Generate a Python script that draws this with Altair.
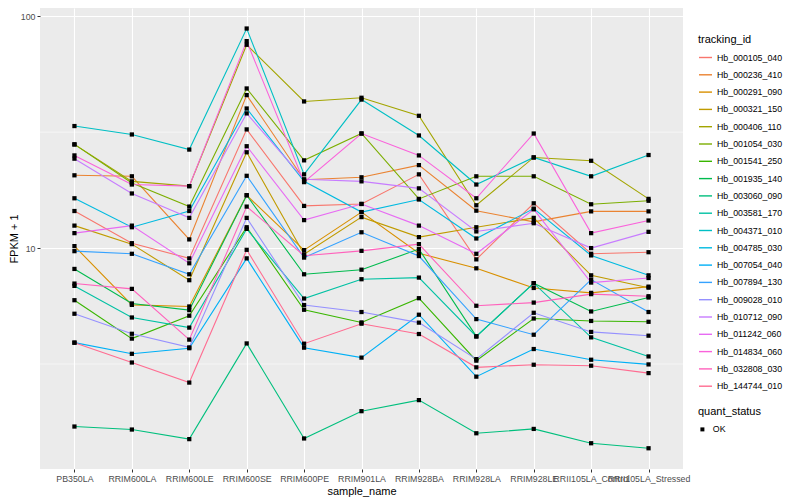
import altair as alt
import pandas as pd

samples = ["PB350LA", "RRIM600LA", "RRIM600LE", "RRIM600SE", "RRIM600PE",
           "RRIM901LA", "RRIM928BA", "RRIM928LA", "RRIM928LE",
           "RRII105LA_Control", "RRII105LA_Stressed"]

ids = ["Hb_000105_040", "Hb_000236_410", "Hb_000291_090", "Hb_000321_150",
       "Hb_000406_110", "Hb_001054_030", "Hb_001541_250", "Hb_001935_140",
       "Hb_003060_090", "Hb_003581_170", "Hb_004371_010", "Hb_004785_030",
       "Hb_007054_040", "Hb_007894_130", "Hb_009028_010", "Hb_010712_090",
       "Hb_011242_060", "Hb_014834_060", "Hb_032808_030", "Hb_144744_010"]

palette = ["#F8766D", "#EA8331", "#D89000", "#C09B00", "#A3A500", "#7CAE00",
           "#39B600", "#00BB4E", "#00BF7D", "#00C1A3", "#00BFC4", "#00BAE0",
           "#00B0F6", "#35A2FF", "#9590FF", "#C77CFF", "#E76BF3", "#FA62DB",
           "#FF62BC", "#FF6C91"]

Hb_000105_040 = [14.45, 10.5, 9.03, 32.5, 15.2, 15.5, 20.8, 8.94, 15.6, 9.45, 9.6]
Hb_000236_410 = [20.6, 20.4, 10.9, 45.7, 19.7, 20.2, 22.8, 14.5, 12.97, 14.4, 14.4]
Hb_000291_090 = [10.2, 5.69, 5.6, 16.9, 9.8, 14.3, 9.5, 8.18, 6.73, 6.41, 6.82]
Hb_000321_150 = [12.5, 10.4, 7.27, 25.9, 9.4, 13.6, 11.15, 12.3, 13.5, 7.63, 6.75]
Hb_000406_110 = [28.0, 19.4, 18.5, 75.3, 42.9, 44.5, 37.2, 15.3, 24.6, 23.8, 16.3]
Hb_001054_030 = [28.0, 19.1, 15.1, 48.8, 23.9, 31.2, 16.3, 20.4, 20.4, 15.45, 16.0]
Hb_001541_250 = [5.96, 4.07, 5.11, 12.3, 5.42, 4.78, 6.08, 3.27, 4.97, 4.85, 4.81]
Hb_001935_140 = [8.13, 5.77, 5.4, 16.9, 7.71, 8.07, 9.9, 4.16, 7.06, 5.33, 6.12]
Hb_003060_090 = [1.70, 1.65, 1.50, 3.88, 1.51, 1.98, 2.21, 1.59, 1.66, 1.44, 1.37]
Hb_003581_170 = [6.87, 5.02, 4.54, 12.1, 6.06, 7.34, 7.46, 4.16, 7.06, 4.12, 3.41]
Hb_004371_010 = [33.6, 30.9, 26.6, 88.5, 20.8, 43.7, 30.6, 18.8, 24.6, 20.4, 25.2]
Hb_004785_030 = [16.4, 12.3, 14.45, 40.0, 19.4, 14.3, 16.2, 11.0, 14.8, 9.3, 7.63]
Hb_007054_040 = [3.91, 3.50, 3.70, 9.03, 3.72, 3.37, 5.16, 2.79, 3.67, 3.30, 3.15]
Hb_007894_130 = [9.7, 9.45, 7.71, 20.5, 9.1, 11.7, 9.24, 4.94, 4.23, 7.31, 5.3]
Hb_009028_010 = [5.21, 4.27, 3.73, 13.5, 5.68, 5.3, 4.77, 3.32, 5.26, 4.35, 4.19]
Hb_010712_090 = [24.3, 17.2, 13.5, 38.1, 19.8, 19.4, 18.1, 11.8, 12.8, 10.0, 11.75]
Hb_011242_060 = [11.6, 12.5, 8.6, 27.5, 13.2, 15.5, 12.5, 9.45, 14.7, 7.1, 7.43]
Hb_014834_060 = [25.1, 18.8, 18.5, 78.1, 19.25, 31.2, 25.1, 16.4, 31.2, 11.6, 13.15]
Hb_032808_030 = [7.03, 6.67, 4.03, 15.1, 9.27, 9.73, 10.4, 5.64, 5.82, 6.33, 6.2]
Hb_144744_010 = [3.91, 3.21, 2.63, 9.83, 3.87, 4.72, 4.26, 3.06, 3.14, 3.11, 2.89]

series = [Hb_000105_040, Hb_000236_410, Hb_000291_090, Hb_000321_150,
          Hb_000406_110, Hb_001054_030, Hb_001541_250, Hb_001935_140,
          Hb_003060_090, Hb_003581_170, Hb_004371_010, Hb_004785_030,
          Hb_007054_040, Hb_007894_130, Hb_009028_010, Hb_010712_090,
          Hb_011242_060, Hb_014834_060, Hb_032808_030, Hb_144744_010]

major_breaks = [10, 100]
minor_breaks = [3.1623, 31.623]
y_domain = [1.115, 108.5]

rows = []
for tid, vals in zip(ids, series):
    for s, v in zip(samples, vals):
        rows.append({"tracking_id": tid, "sample_name": s, "value": v,
                     "quant_status": "OK"})
df = pd.DataFrame(rows)
minor_df = pd.DataFrame({"value": minor_breaks})

FONT = "Liberation Sans"

x_axis = alt.Axis(labelAngle=0, labelFontSize=8.8, labelColor="#4D4D4D",
                  labelFont=FONT, tickColor="#333333", tickSize=3,
                  labelPadding=2, domain=False, grid=True,
                  gridColor="white", gridWidth=1.1,
                  titleFont=FONT, titleFontSize=11,
                  titleFontWeight="normal", titleColor="black",
                  titlePadding=3)
y_axis = alt.Axis(values=major_breaks, format="d", labelFontSize=8.8,
                  labelColor="#4D4D4D", labelFont=FONT,
                  tickColor="#333333", tickSize=3, labelPadding=2,
                  domain=False, grid=True, gridColor="white",
                  gridWidth=1.1, titleFont=FONT, titleFontSize=11,
                  titleFontWeight="normal", titleColor="black",
                  titlePadding=1)
y_scale = alt.Scale(type="log", domain=y_domain, nice=False, zero=False)

x_enc = alt.X("sample_name:N", sort=samples, title="sample_name",
              scale=alt.Scale(type="point", padding=0.6), axis=x_axis)
y_enc = alt.Y("value:Q", title="FPKM + 1", scale=y_scale, axis=y_axis)

minor = alt.Chart(minor_df).mark_rule(color="white", strokeWidth=0.55).encode(
    y=y_enc
)

lines = alt.Chart(df).mark_line(strokeWidth=1.1).encode(
    x=x_enc,
    y=y_enc,
    color=alt.Color("tracking_id:N",
                    scale=alt.Scale(domain=ids, range=palette),
                    legend=alt.Legend(title="tracking_id", orient="none",
                                      legendX=658, legendY=26,
                                      symbolType="stroke", symbolSize=169,
                                      symbolStrokeWidth=1.4,
                                      labelFontSize=8.8, labelFont=FONT,
                                      labelColor="black", labelOffset=4,
                                      titleFontSize=11, titleFont=FONT,
                                      titleFontWeight="normal",
                                      titleColor="black", titlePadding=5,
                                      rowPadding=4.3, padding=0)),
    detail="tracking_id:N",
)

points = alt.Chart(df).mark_point(filled=True, size=18, opacity=1,
                                  color="black").encode(
    x=x_enc,
    y=y_enc,
    shape=alt.Shape("quant_status:N",
                    scale=alt.Scale(range=["square"]),
                    legend=alt.Legend(title="quant_status", orient="none",
                                      legendX=658, legendY=398,
                                      symbolSize=16, symbolFillColor="black",
                                      symbolStrokeColor="black",
                                      labelFontSize=8.8, labelFont=FONT,
                                      labelColor="black", labelOffset=6,
                                      titleFontSize=11, titleFont=FONT,
                                      titleFontWeight="normal",
                                      titleColor="black", titlePadding=8,
                                      padding=0)),
)

chart = alt.layer(minor, lines, points).properties(
    width=643, height=461,
    padding={"left": 32, "top": 0, "right": 109, "bottom": 28},
    autosize=alt.AutoSizeParams(type="none"),
).configure_view(fill="#EBEBEB", stroke=None)

chart.save("out.html", embed_options={"renderer": "svg", "actions": False})
